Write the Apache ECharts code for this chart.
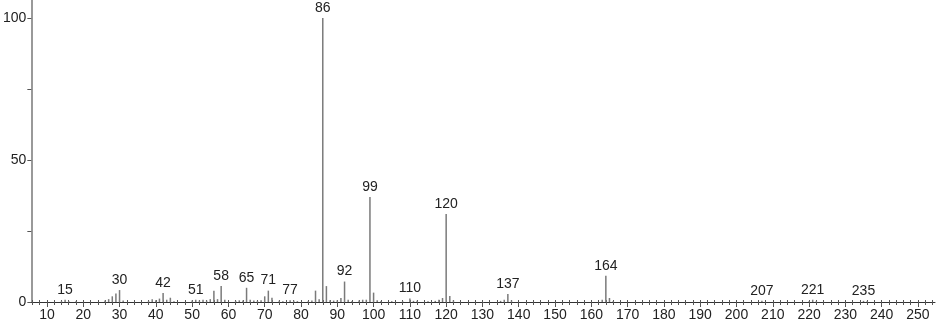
<!DOCTYPE html>
<html>
<head>
<meta charset="utf-8">
<script src="https://cdn.jsdelivr.net/npm/echarts@6/dist/echarts.min.js"></script>
<style>
html,body{margin:0;padding:0;background:#fff;}
#chart{width:940px;height:324px;}
</style>
</head>
<body>
<div id="chart"></div>
<script>
// m/z values and relative intensities
var masses = [14,15,16,18,26,27,28,29,30,31,38,39,40,41,42,43,44,45,50,51,52,53,54,55,56,57,58,59,62,63,64,65,66,67,68,69,70,71,72,74,75,77,78,79,82,83,84,85,86,87,88,89,90,91,92,93,94,96,97,98,99,100,101,102,105,108,110,111,112,115,117,118,119,120,121,122,135,136,137,138,163,164,165,166,207,220,221,222,235,236];
var intensities = [0.3,0.8,0.3,0.3,0.5,1.0,2.0,3.0,4.2,0.5,0.4,1.0,0.6,1.2,3.2,0.8,1.5,0.3,0.5,0.8,0.5,0.8,0.5,1.0,4.0,1.0,5.6,0.8,0.4,0.6,0.5,5.0,0.8,0.5,0.4,0.6,2.0,4.0,1.5,0.4,0.3,0.6,0.5,0.3,0.3,0.5,4.0,1.0,100,5.6,0.6,0.5,0.6,1.4,7.2,0.8,0.3,0.5,0.8,0.8,37,3.3,0.6,0.3,0.3,0.3,1.2,0.4,0.4,0.3,0.4,0.8,1.4,31,2.1,0.6,0.4,0.8,2.8,0.6,0.8,9.2,1.4,0.3,0.4,0.3,0.8,0.3,0.4,0.3];
var labeledMasses = [15,30,42,51,58,65,71,77,86,92,99,110,120,137,164,207,221,235];
var xLabelTicks = [10,20,30,40,50,60,70,80,90,100,110,120,130,140,150,160,170,180,190,200,210,220,230,240,250];
var xMinorTicks = [];
for (var t = 6; t <= 254; t += 2) { xMinorTicks.push(t); }
var yLabelTicks = [0,50,100];
var yTicks = [0,25,50,75,100];

var FONT = 'Liberation Sans';
var XMIN = 5.7, XMAX = 254.7;
var data = masses.map(function(m, i){
  var item = { value: [m, intensities[i]] };
  if (labeledMasses.indexOf(m) >= 0) {
    item.label = { show: true, formatter: String(m) };
  }
  return item;
});

var chart = echarts.init(document.getElementById('chart'), null, {renderer:'canvas'});
chart.setOption({
  animation: false,
  backgroundColor: '#fff',
  grid: { left: 29, right: 5, top: 0, bottom: 22, containLabel: false },
  xAxis: [
    {
      type: 'value', min: XMIN, max: XMAX, position: 'bottom',
      splitLine: { show: false },
      axisLine: { show: true, onZero: false, lineStyle: { color: '#333', width: 1 } },
      axisTick: { show: true, customValues: xLabelTicks, length: 5, lineStyle: { color: '#555' } },
      axisLabel: { show: true, customValues: xLabelTicks, margin: 6, color: '#222', fontFamily: FONT, fontSize: 14 }
    },
    {
      type: 'value', min: XMIN, max: XMAX, position: 'bottom',
      splitLine: { show: false },
      axisLine: { show: false, onZero: false },
      axisTick: { show: true, customValues: xMinorTicks, length: 3, lineStyle: { color: '#555' } },
      axisLabel: { show: false }
    },
    {
      type: 'value', min: XMIN, max: XMAX, position: 'bottom',
      splitLine: { show: false },
      axisLine: { show: false, onZero: false },
      axisTick: { show: true, inside: true, customValues: xMinorTicks, length: 2, lineStyle: { color: '#555' } },
      axisLabel: { show: false }
    }
  ],
  yAxis: {
    type: 'value', min: 0, max: 106.3,
    splitLine: { show: false },
    axisLine: { show: true, onZero: false, lineStyle: { color: '#999', width: 2 } },
    axisTick: { show: true, customValues: yTicks, length: 4, lineStyle: { color: '#555' } },
    axisLabel: { show: true, customValues: yLabelTicks, margin: 5, color: '#222', fontFamily: FONT, fontSize: 14 }
  },
  series: [{
    type: 'bar',
    xAxisIndex: 0,
    barWidth: 1.5,
    itemStyle: { color: '#7a7a7a' },
    label: { show: false, position: 'top', distance: 3, color: '#222', fontFamily: FONT, fontSize: 14 },
    data: data
  }]
});
</script>
</body>
</html>
